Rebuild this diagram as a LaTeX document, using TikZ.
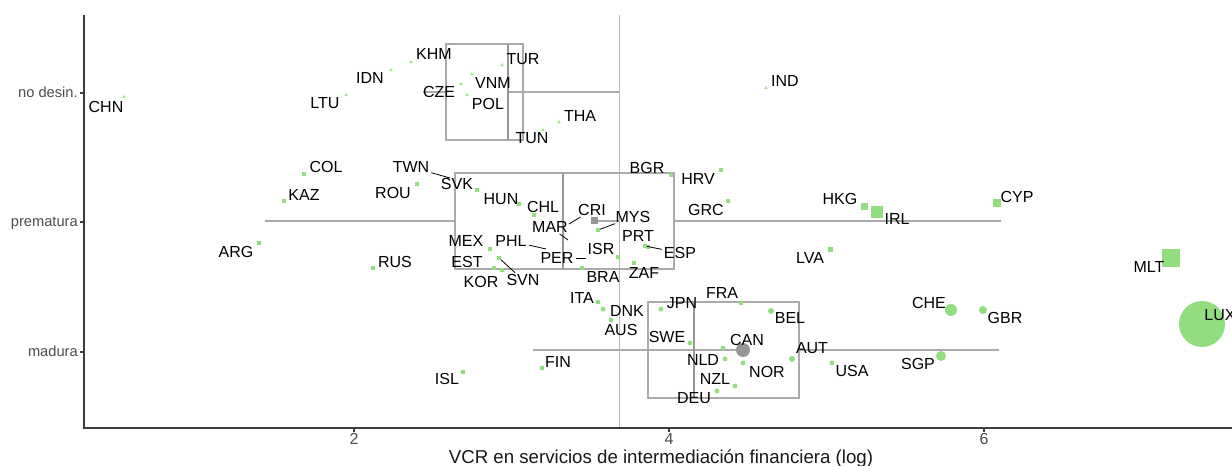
\documentclass[tikz,border=0pt]{standalone}
\usepackage{fontspec}
\setmainfont{Liberation Sans}
\usetikzlibrary{shapes.geometric}

\definecolor{ptgreen}{RGB}{146,221,128}
\definecolor{ctrgray}{RGB}{150,150,150}
\definecolor{boxgray}{RGB}{170,170,170}
\definecolor{medgray}{RGB}{150,150,150}
\definecolor{refgray}{RGB}{185,185,185}
\definecolor{axisline}{RGB}{60,60,60}
\definecolor{ticktext}{RGB}{77,77,77}

% one country: marker node p-<code> and its label l-<code>
\newcommand\cty[6]{%
  \node[#6] (p-#1) at (#2,#3) {};
  \node[lab] (l-#1) at (#4,#5) {#1};}

\begin{document}
\begin{tikzpicture}[x=0.75pt,y=-0.75pt,
  lab/.style={inner sep=0pt, font=\fontsize{12}{14}\selectfont, text=black},
  tri/.style={regular polygon, regular polygon sides=3, fill=ptgreen!80, draw=none, inner sep=0pt, minimum size=#1},
  tri/.default=3.2pt,
  sqpt/.style={rectangle, fill=ptgreen, draw=none, inner sep=0pt, minimum size=#1},
  sqpt/.default=2.6pt,
  dotpt/.style={circle, fill=ptgreen, draw=none, inner sep=0pt, minimum size=#1},
  dotpt/.default=3.6pt,
  ctrsq/.style={rectangle, fill=ctrgray, inner sep=0pt, minimum size=5.25pt},
  ctrdot/.style={circle, fill=ctrgray, inner sep=0pt, minimum size=10.5pt},
  frame/.style={draw=axisline, line width=1.1pt},
  boxline/.style={draw=boxgray, line width=0.8pt},
  whisk/.style={draw=boxgray, line width=0.8pt},
  medline/.style={draw=medgray, line width=2pt},
  refline/.style={draw=refgray, line width=0.75pt},
  lead/.style={draw=black, line width=0.6pt, shorten <=1.5pt},
  ticklab/.style={inner sep=0pt, font=\fontsize{11}{13}\selectfont, text=ticktext},
  xticklab/.style={inner sep=0pt, font=\fontsize{12}{14}\selectfont, text=ticktext},
  axtitle/.style={inner sep=0pt, font=\fontsize{14}{16}\selectfont, text=black!90}
]
\useasboundingbox[fill=white] (0,0) rectangle (1232,466);

% global reference line
\draw[refline] (619,15) -- (619,428);

% cluster: no desin.
\draw[boxline] (446,44) rectangle (523,140);
\draw[whisk] (423,92) -- (446,92);
\draw[whisk] (508,92) -- (619,92);
\draw[medline] (508,44) -- (508,140);

% cluster: prematura
\draw[boxline] (455,173) rectangle (674,269);
\draw[whisk] (265,221) -- (455,221);
\draw[whisk] (674,221) -- (1001,221);
\draw[whisk] (594,221) -- (619,221);
\draw[medline] (563,173) -- (563,269);
\node[ctrsq] (c-pre) at (594,221) {};

% cluster: madura
\draw[boxline] (648,302) rectangle (799,398);
\draw[whisk] (533,350) -- (648,350);
\draw[whisk] (799,350) -- (999,350);
\draw[whisk] (619,350) -- (743,350);
\draw[medline] (694,302) -- (694,398);

% axes and ticks
\draw[frame] (84,15) -- (84,428) -- (1232,428);
\foreach \yy in {93,222,352}
  \draw[frame] (80,\yy) -- (84,\yy);
\foreach \xx in {354,669,984}
  \draw[frame] (\xx,428) -- (\xx,432);
\node[ticklab, anchor=base east] (t-nd) at (78,98) {no desin.};
\node[ticklab, anchor=base east] (t-pre) at (78,227) {prematura};
\node[ticklab, anchor=base east] (t-mad) at (78,357) {madura};
\node[xticklab, anchor=base] (t-2) at (354,445) {2};
\node[xticklab, anchor=base] (t-4) at (669,445) {4};
\node[xticklab, anchor=base] (t-6) at (984,445) {6};
\node[axtitle, anchor=base] (xtitle) at (661,464) {VCR en servicios de intermediación financiera (log)};

% no desin. (triangles)
\cty{CHN}{124}{97}{106}{107}{tri}
\cty{LTU}{346}{95}{325}{103}{tri}
\cty{IDN}{391}{70}{370}{78}{tri}
\cty{KHM}{411}{62}{434}{54}{tri}
\cty{TUR}{502}{65}{523}{59}{tri}
\cty{VNM}{472}{74}{493}{83}{tri}
\cty{CZE}{461}{84}{439}{92}{tri}
\cty{POL}{467}{95}{488}{104}{tri}
\cty{TUN}{543}{130}{532}{138}{tri}
\cty{THA}{559}{122}{580}{116}{tri}
\cty{IND}{766}{88}{785}{81}{tri}

% prematura (squares)
\cty{COL}{304}{174}{326}{167}{sqpt}
\cty{KAZ}{284}{201}{304}{195}{sqpt}
\cty{ARG}{259}{243}{236}{252}{sqpt}
\cty{RUS}{373}{268}{395}{262}{sqpt}
\cty{ROU}{417}{184}{393}{193}{sqpt}
\cty{SVK}{477}{190}{457}{184}{sqpt}
\cty{HUN}{519}{204}{501}{199}{sqpt}
\cty{CHL}{534}{215}{543}{207}{sqpt}
\cty{MYS}{598}{230}{633}{217}{sqpt}
\cty{PRT}{648}{247}{638}{236}{sqpt}
\cty{ESP}{645}{246}{680}{253}{sqpt}
\cty{ISR}{618}{257}{601}{249}{sqpt}
\cty{BRA}{582}{268}{603}{277}{sqpt}
\cty{ZAF}{634}{263}{644}{273}{sqpt}
\cty{MEX}{490}{249}{466}{241}{sqpt}
\cty{EST}{494}{268}{467}{262}{sqpt}
\cty{KOR}{502}{270}{481}{282}{sqpt}
\cty{SVN}{499}{258}{523}{280}{sqpt}
\cty{BGR}{671}{175}{647}{168}{sqpt}
\cty{HRV}{721}{170}{698}{179}{sqpt=3pt}
\cty{GRC}{728}{201}{706}{210}{sqpt=3pt}
\cty{LVA}{830}{250}{810}{258}{sqpt=3.75pt}
\cty{HKG}{864}{207}{840}{199}{sqpt=5.25pt}
\cty{IRL}{877}{212}{897}{219}{sqpt=9pt}
\cty{CYP}{997}{203}{1017}{197}{sqpt=6pt}
\cty{MLT}{1171}{258}{1149}{267}{sqpt=13.5pt}
\coordinate (p-TWN) at (450,178);
\node[lab] (l-TWN) at (411,167) {TWN};
\coordinate (p-CRI) at (569,224);
\node[lab] (l-CRI) at (592,210) {CRI};
\coordinate (p-MAR) at (568,240);
\node[lab] (l-MAR) at (550,227) {MAR};
\coordinate (p-PER) at (586,258);
\node[lab] (l-PER) at (557,258) {PER};
\coordinate (p-PHL) at (546,249);
\node[lab] (l-PHL) at (511,241) {PHL};

% madura (circles)
\node[ctrdot] (c-mad) at (743,350) {};
\cty{ITA}{598}{302}{582}{298}{dotpt}
\cty{DNK}{603}{309}{627}{311}{dotpt}
\cty{AUS}{611}{320}{621}{330}{dotpt}
\cty{FIN}{542}{368}{558}{362}{dotpt}
\cty{ISL}{463}{372}{447}{379}{dotpt}
\cty{JPN}{661}{309}{682}{303}{dotpt}
\cty{FRA}{741}{303}{722}{293}{dotpt}
\cty{BEL}{771}{311}{790}{318}{dotpt=4.5pt}
\cty{SWE}{690}{343}{667}{337}{dotpt}
\cty{CAN}{723}{348}{747}{340}{dotpt}
\cty{NLD}{725}{359}{703}{360}{dotpt}
\cty{NOR}{743}{363}{767}{372}{dotpt}
\cty{NZL}{735}{386}{715}{379}{dotpt}
\cty{DEU}{717}{391}{694}{398}{dotpt}
\cty{AUT}{792}{359}{812}{348}{dotpt=4.5pt}
\cty{USA}{832}{363}{852}{371}{dotpt=3.75pt}
\cty{SGP}{941}{356}{918}{364}{dotpt=7.5pt}
\cty{CHE}{951}{310}{929}{303}{dotpt=9pt}
\cty{GBR}{983}{310}{1005}{318}{dotpt=6pt}
\cty{LUX}{1202}{324}{1220}{315}{dotpt=34.5pt}

% leader segments from labels to their markers
\draw[lead] (l-TWN) -- (p-TWN);
\draw[lead] (l-CRI) -- (p-CRI);
\draw[lead] (l-MAR) -- (p-MAR);
\draw[lead] (l-MYS) -- (p-MYS);
\draw[lead] (l-PHL) -- (p-PHL);
\draw[lead] (l-PER) -- (p-PER);
\draw[lead] (l-SVN) -- (p-SVN);
\draw[lead] (l-ESP) -- (p-ESP);
\end{tikzpicture}
\end{document}
